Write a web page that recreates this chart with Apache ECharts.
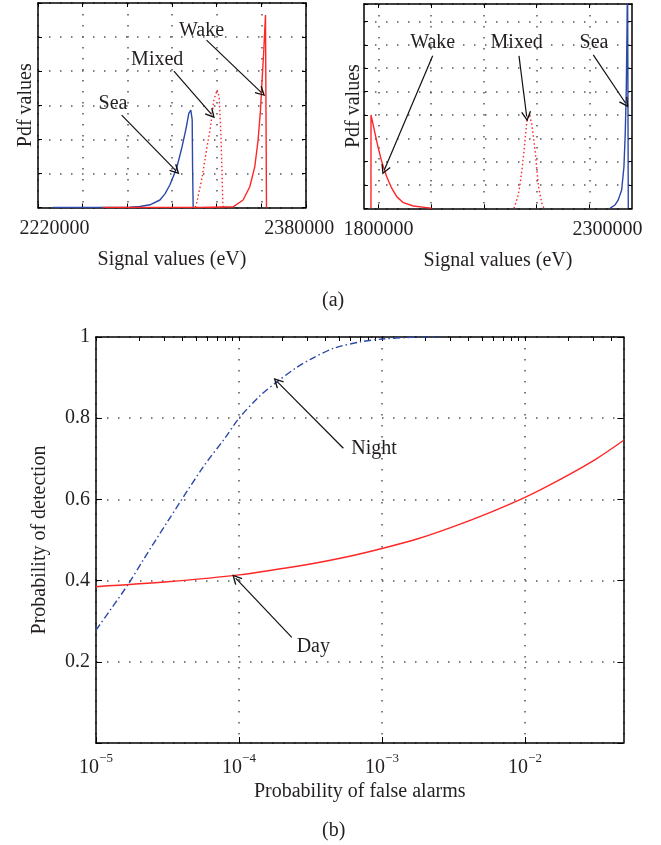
<!DOCTYPE html>
<html><head><meta charset="utf-8">
<script src="https://cdn.jsdelivr.net/npm/echarts@6/dist/echarts.min.js"></script>
<style>html,body{margin:0;padding:0;background:#fff}#c{width:661px;height:845px}</style>
</head><body><div id="c"></div>
<script>
// ---------- Panel (a), left: Pdf values vs signal values ----------
const seaL_x   = [2219000, 2269300, 2275800, 2282400, 2288900, 2292200, 2295400, 2299800, 2303100, 2305900, 2307800, 2309100, 2310000, 2310250, 2310640];
const seaL_y   = [0, 0.01, 0.03, 0.08, 0.22, 0.4, 0.66, 1.15, 1.73, 2.3, 2.76, 2.86, 2.57, 1.2, 0];
const mixedL_x = [2312070, 2312860, 2316120, 2319390, 2322000, 2324150, 2326310, 2327620, 2328730, 2329380, 2330040, 2330370];
const mixedL_y = [0, 0.12, 0.8, 1.69, 2.37, 3.15, 3.45, 3.25, 2.18, 1.2, 0.12, 0];
const wakeL_x  = [2251700, 2315000, 2336760, 2343290, 2347660, 2350930, 2353080, 2354650, 2355700, 2356810, 2357920, 2358300, 2358570];
const wakeL_y  = [0, 0, 0.02, 0.22, 0.61, 1.2, 1.98, 2.86, 3.74, 4.62, 5.65, 5.68, 0];
const ticksL_labels = [2220000, 2380000];
const notesL_text = ['Sea', 'Mixed', 'Wake'];
const notesL_x = [2258200, 2287130, 2316120];
const notesL_y = [3.05, 4.33, 5.18];
const arrowsL_from = [[2263880, 2.71], [2298030, 4.0], [2319390, 4.91]];
const arrowsL_to   = [[2299340, 1.08], [2322650, 2.73], [2355300, 3.37]];

// ---------- Panel (a), right ----------
const wakeR_x  = [1783500, 1783600, 1792360, 1799560, 1806980, 1817900, 1828810, 1839730, 1854140, 1875970, 1905220, 1916140];
const wakeR_y  = [0, 4.0, 3.21, 2.57, 2.0, 1.35, 0.86, 0.5, 0.24, 0.1, 0.03, 0];
const mixedR_x = [2095800, 2099510, 2105180, 2110420, 2114790, 2118280, 2121990, 2124830, 2129200, 2134440, 2137930, 2141640, 2143820, 2146000, 2148840, 2152550, 2156920, 2161290];
const mixedR_y = [0, 0.07, 0.57, 1.21, 1.93, 2.57, 3.36, 3.86, 4.0, 3.64, 3.14, 2.5, 2.1, 1.6, 1.0, 0.6, 0.2, 0];
const seaR_x   = [2305360, 2316270, 2323480, 2330900, 2335920, 2338760, 2340950, 2342480, 2343790, 2345300, 2345400];
const seaR_y   = [0, 0.14, 0.36, 0.78, 1.78, 3.21, 5.0, 7.5, 10, 10, 0];
const ticksR_grid = [1799600, 1914750, 2029900, 2145050, 2260200];
const ticksR_labels = [1800000, 2300000];
const notesR_text = ['Wake', 'Mixed', 'Sea'];
const notesR_x = [1918200, 2101700, 2270400];
const notesR_y = [7.07, 7.07, 7.07];
const arrowsR_from = [[1918300, 6.53], [2106700, 6.53], [2268900, 6.57]];
const arrowsR_to   = [[1812660, 1.64], [2123530, 3.93], [2339600, 4.5]];

// ---------- Panel (b): ROC ----------
const nightX = [1e-5, 1.68e-5, 2.14e-5, 3.16e-5, 5.62e-5, 7.94e-5, 1e-4, 1.40e-4, 1.85e-4, 2.53e-4, 3.16e-4, 4.57e-4, 7.08e-4, 1e-3, 1.58e-3, 2.51e-3];
const nightY = [0.278, 0.391, 0.451, 0.545, 0.68, 0.75, 0.80, 0.855, 0.89, 0.925, 0.945, 0.972, 0.988, 0.995, 0.999, 1.0];
const dayX = [1e-5, 3.16e-5, 1e-4, 3.16e-4, 5.62e-4, 1e-3, 1.78e-3, 3.16e-3, 5.62e-3, 1e-2, 1.78e-2, 3.16e-2, 4.88e-2];
const dayY = [0.385, 0.397, 0.414, 0.441, 0.458, 0.479, 0.503, 0.533, 0.567, 0.605, 0.650, 0.700, 0.745];
const decades = [1e-5, 1e-4, 1e-3, 1e-2];
const minorMultipliers = [2, 3, 4, 5, 6, 7, 8, 9];
const notesB_text = ['Night', 'Day'];
const notesB_x = [8.8e-4, 3.31e-4];
const notesB_y = [0.724, 0.238];
const arrowsB_from = [[5.37e-4, 0.726], [2.34e-4, 0.26]];
const arrowsB_to   = [[1.85e-4, 0.89], [9.48e-5, 0.406]];

const X_MAX_B = 0.0488;

// ---------- styles ----------
const FONT = 'Liberation Serif';
const TXT = '#231f20';
const RED = '#ff2626';
const BLUE = '#2c48a8';
const FRAME = {onZero: false, lineStyle: {color: '#000', width: 1.5}};
const GRIDLINE = {show: true, lineStyle: {color: '#555', width: 1.5, type: [1.5, 9.5]}};
const NOGRID = {show: false};
const TICK = (len, extra) => Object.assign({inside: true, length: len, lineStyle: {color: '#000', width: 1}}, extra || {});
const nameStyle = {fontFamily: FONT, fontSize: 20, color: TXT};
const labStyle = {fontFamily: FONT, fontSize: 20, color: TXT};

const pairs = (xs, ys) => xs.map((x, i) => [x, ys[i]]);
const logMinor = [];
decades.forEach(d => minorMultipliers.forEach(m => { if (m * d <= X_MAX_B) logMinor.push(Math.log10(m * d)); }));
const logAll = decades.map(d => Math.log10(d)).concat(logMinor);

const ARROW = 'path://M5,0 L10,8.6 L8.8,9.2 L5,2.6 L1.2,9.2 L0,8.6 Z';
function notes(xi, yi, texts, xs, ys, from, to) {
  return {
    type: 'scatter', xAxisIndex: xi, yAxisIndex: yi, symbolSize: 0,
    itemStyle: {color: TXT, opacity: 1}, silent: true, z: 5,
    data: texts.map((t, i) => [xs[i], ys[i], t]),
    label: {show: true, position: 'inside', formatter: p => p.data[2], fontFamily: FONT, fontSize: 20, color: TXT,
            textBorderWidth: 0, opacity: 1},
    markLine: {
      silent: true, animation: false, symbol: ['none', ARROW], symbolSize: 10,
      itemStyle: {color: '#111'},
      lineStyle: {color: '#111', width: 1.2, type: 'solid', opacity: 1}, label: {show: false},
      emphasis: {disabled: true},
      data: from.map((f, i) => [{coord: f}, {coord: to[i]}])
    }
  };
}
function line(xi, yi, xs, ys, color, type, smooth) {
  return {type: 'line', xAxisIndex: xi, yAxisIndex: yi, data: pairs(xs, ys), showSymbol: false,
    smooth: smooth || false, lineStyle: {color: color, width: 1.4, type: type || 'solid'}, z: 3};
}

const chart = echarts.init(document.getElementById('c'), null, {renderer: 'canvas'});
chart.setOption({
  animation: false,
  backgroundColor: '#fff',
  title: [
    {text: '(a)', left: 317, top: 286, textStyle: {fontFamily: FONT, fontSize: 20, fontWeight: 'normal', color: TXT}},
    {text: '(b)', left: 317, top: 816, textStyle: {fontFamily: FONT, fontSize: 20, fontWeight: 'normal', color: TXT}}
  ],
  grid: [
    {left: 38, top: 3, width: 268, height: 204.5},
    {left: 364, top: 4, width: 268, height: 204.3},
    {left: 96, top: 337, width: 527.4, height: 406}
  ],
  xAxis: [
    {gridIndex: 0, type: 'value', min: 2209200, max: 2384400, interval: 29200, axisLine: FRAME, axisTick: TICK(4),
     axisLabel: Object.assign({customValues: ticksL_labels, formatter: v => String(v), margin: 11}, labStyle),
     splitLine: GRIDLINE, name: 'Signal values (eV)', nameLocation: 'middle', nameGap: 42, nameTextStyle: nameStyle},
    {gridIndex: 0, type: 'value', position: 'top', min: 2209200, max: 2384400, interval: 29200, axisLine: FRAME,
     axisTick: TICK(4), axisLabel: {show: false}, splitLine: NOGRID},
    {gridIndex: 1, type: 'value', min: 1768300, max: 2353500, axisLine: FRAME, axisTick: TICK(4, {customValues: ticksR_grid}),
     axisLabel: Object.assign({customValues: ticksR_labels, formatter: v => String(v), margin: 11}, labStyle),
     splitLine: GRIDLINE, name: 'Signal values (eV)', nameLocation: 'middle', nameGap: 42, nameTextStyle: nameStyle},
    {gridIndex: 1, type: 'value', position: 'top', min: 1768300, max: 2353500, axisLine: FRAME,
     axisTick: TICK(4, {customValues: ticksR_grid}), axisLabel: {show: false}, splitLine: NOGRID},
    {gridIndex: 2, type: 'log', logBase: 10, min: 1e-5, max: X_MAX_B, axisLine: FRAME, axisTick: TICK(6),
     axisLabel: {showMaxLabel: false, margin: 9, formatter: v => {
        const e = Math.log10(v); if (Math.abs(e - Math.round(e)) > 1e-6) return '';
        return '{b|10}{s|\u2212' + Math.abs(Math.round(e)) + '}'; },
       rich: {b: {fontFamily: FONT, fontSize: 20, color: TXT, lineHeight: 26, verticalAlign: 'bottom'},
              s: {fontFamily: FONT, fontSize: 13, color: TXT, lineHeight: 14, verticalAlign: 'top'}}},
     splitLine: GRIDLINE, name: 'Probability of false alarms', nameLocation: 'middle', nameGap: 39, nameTextStyle: nameStyle},
    {gridIndex: 2, type: 'value', min: -5, max: Math.log10(X_MAX_B), axisLine: {show: false, onZero: false},
     axisTick: TICK(3, {customValues: logMinor}), axisLabel: {show: false}, splitLine: NOGRID},
    {gridIndex: 2, type: 'value', position: 'top', min: -5, max: Math.log10(X_MAX_B), axisLine: FRAME,
     axisTick: TICK(4, {customValues: logAll}), axisLabel: {show: false}, splitLine: NOGRID}
  ],
  yAxis: [
    {gridIndex: 0, type: 'value', min: 0, max: 6, interval: 1, axisLine: FRAME, axisTick: TICK(4), axisLabel: {show: false},
     splitLine: GRIDLINE, name: 'Pdf values', nameLocation: 'middle', nameRotate: 90, nameGap: 2, nameTextStyle: nameStyle},
    {gridIndex: 0, type: 'value', position: 'right', min: 0, max: 6, interval: 1, axisLine: FRAME, axisTick: TICK(4),
     axisLabel: {show: false}, splitLine: NOGRID},
    {gridIndex: 1, type: 'value', min: 0, max: 8.75, interval: 1, axisLine: FRAME, axisTick: TICK(4), axisLabel: {show: false},
     splitLine: GRIDLINE, name: 'Pdf values', nameLocation: 'middle', nameRotate: 90, nameGap: 0, nameTextStyle: nameStyle},
    {gridIndex: 1, type: 'value', position: 'right', min: 0, max: 8.75, interval: 1, axisLine: FRAME, axisTick: TICK(4),
     axisLabel: {show: false}, splitLine: NOGRID},
    {gridIndex: 2, type: 'value', min: 0, max: 1, interval: 0.2, axisLine: FRAME, axisTick: TICK(6),
     axisLabel: Object.assign({margin: 6, formatter: v => v === 0 ? '' : String(+v.toFixed(1))}, labStyle),
     splitLine: GRIDLINE, name: 'Probability of detection', nameLocation: 'middle', nameRotate: 90, nameGap: 46, nameTextStyle: nameStyle},
    {gridIndex: 2, type: 'value', position: 'right', min: 0, max: 1, interval: 0.2, axisLine: FRAME, axisTick: TICK(6),
     axisLabel: {show: false}, splitLine: NOGRID}
  ],
  series: [
    line(0, 0, seaL_x, seaL_y, BLUE),
    line(0, 0, mixedL_x, mixedL_y, RED, [1.5, 2.5]),
    line(0, 0, wakeL_x, wakeL_y, RED),
    notes(0, 0, notesL_text, notesL_x, notesL_y, arrowsL_from, arrowsL_to),
    line(2, 2, wakeR_x, wakeR_y, RED),
    line(2, 2, mixedR_x, mixedR_y, RED, [1.5, 2.5]),
    line(2, 2, seaR_x, seaR_y, BLUE),
    notes(2, 2, notesR_text, notesR_x, notesR_y, arrowsR_from, arrowsR_to),
    line(4, 4, nightX, nightY, BLUE, [7, 3, 1.5, 3], 0.3),
    line(4, 4, dayX, dayY, RED, 'solid', 0.3),
    notes(4, 4, notesB_text, notesB_x, notesB_y, arrowsB_from, arrowsB_to)
  ]
});
</script>
</body></html>
